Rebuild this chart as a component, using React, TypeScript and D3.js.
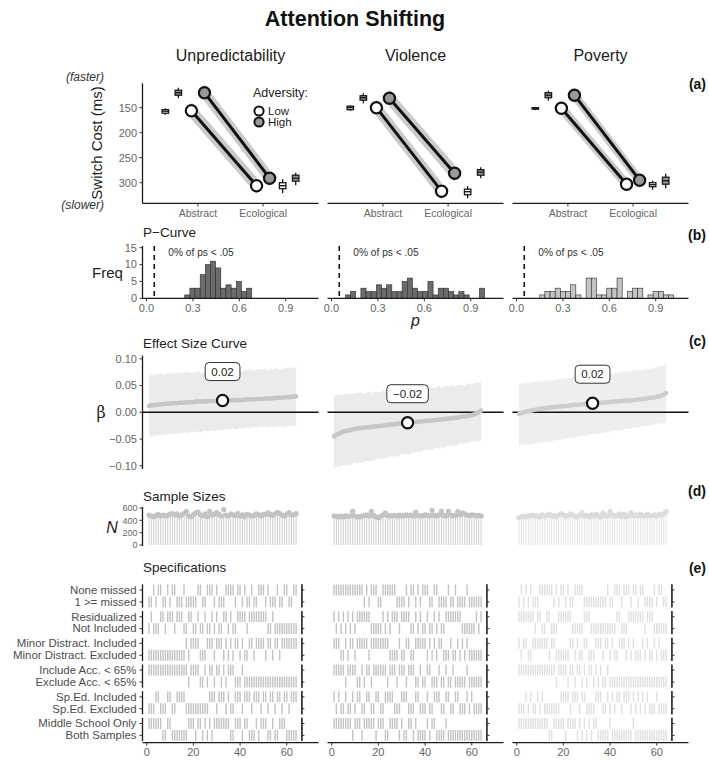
import React from "react";
import * as d3 from "d3";

const W = 709;
const H = 760;
const FONT = "'Liberation Sans', Arial, Helvetica, sans-serif";

// ---------------- DATA ----------------
const adversityColumns = ["Unpredictability", "Violence", "Poverty"];
const taskLevels = ["Abstract", "Ecological"];
const switchTicks = [150, 200, 250, 300];

// switch cost (ms) per column
const lowAbstract = [156, 150, 151];
const lowEcological = [306, 317, 303];
const highAbstract = [120, 131, 125];
const highEcological = [291, 281, 295];
const ribbonHalf = [17, 17, 14];

// boxplots [lo, q1, median, q3, hi]
const boxLowAbstract = [[151, 154, 157, 161, 164], [145, 147, 150, 154, 156], [148, 150, 151, 153, 155]];
const boxHighAbstract = [[110, 115, 120, 125, 131], [121, 126, 130, 135, 141], [116, 120, 125, 130, 136]];
const boxLowEcological = [[293, 300, 306, 312, 321], [307, 313, 318, 324, 331], [296, 300, 304, 308, 314]];
const boxHighEcological = [[280, 285, 291, 297, 305], [269, 274, 279, 285, 291], [282, 289, 296, 303, 311]];

// p-curve histograms
const pTicks = [0, 0.3, 0.6, 0.9];
const freqTicks = [0, 5, 10, 15];
const pBinWidth = 1 / 30;
const pBinStart = [0.247, 0.09, 0.15];
const pCounts = [
  [1, 3, 3, 7, 10, 11, 9, 3, 4, 3, 5, 2, 3],
  [1, 2, 0, 3, 2, 2, 4, 3, 4, 2, 2, 5, 6, 3, 2, 2, 5, 1, 3, 3, 2, 1, 2, 1, 0, 0, 3],
  [1, 2, 2, 3, 2, 2, 4, 1, 0, 6, 6, 1, 1, 3, 3, 6, 0, 2, 3, 3, 0, 1, 2, 2, 1, 1, 0],
];
const pShareLabel = ["0% of ps < .05", "0% of ps < .05", "0% of ps < .05"];

// effect size curve (x 1/1000), sorted by rank 1..64
const betaTicks = [0.1, 0.05, 0, -0.05, -0.1];
const estUnpred = [
  12, 13, 13, 14, 14, 15, 15, 16, 16, 16, 17, 17, 17, 18, 18, 18, 19, 19, 19, 19,
  20, 20, 20, 20, 20, 21, 21, 21, 21, 21, 22, 22, 22, 22, 22, 22, 23, 23, 23, 23,
  23, 24, 24, 24, 24, 24, 25, 25, 25, 25, 26, 26, 26, 26, 27, 27, 27, 27, 28, 28,
  28, 29, 29, 30,
];
const upperUnpred = [
  68, 71, 69, 72, 70, 73, 71, 70, 74, 72, 73, 71, 75, 72, 74, 73, 76, 74, 72, 75,
  74, 77, 75, 73, 76, 78, 75, 77, 74, 76, 78, 76, 79, 77, 75, 78, 80, 77, 79, 78,
  76, 80, 78, 81, 79, 77, 80, 82, 79, 81, 80, 78, 82, 80, 83, 81, 79, 83, 81, 84,
  82, 85, 83, 84,
];
const lowerUnpred = [
  -44, -46, -43, -45, -42, -44, -41, -43, -40, -42, -39, -41, -40, -38, -40, -37, -39, -38, -36, -38,
  -37, -35, -38, -36, -34, -36, -35, -33, -35, -34, -32, -34, -33, -31, -33, -32, -30, -32, -31, -29,
  -31, -30, -28, -30, -29, -27, -29, -28, -26, -28, -27, -29, -26, -28, -27, -25, -27, -26, -28, -25,
  -26, -24, -26, -25,
];
const estViolence = [
  -45, -42, -40, -38, -36, -35, -34, -33, -32, -31, -30, -30, -29, -29, -28, -28, -27, -27, -26, -26,
  -25, -25, -24, -24, -23, -23, -22, -22, -21, -21, -20, -20, -19, -19, -18, -18, -18, -17, -17, -16,
  -16, -16, -15, -15, -14, -14, -13, -13, -12, -12, -11, -11, -10, -10, -9, -8, -8, -7, -6, -5,
  -4, -2, 0, 3,
];
const upperViolence = [
  30, 33, 31, 34, 32, 35, 33, 36, 34, 37, 35, 38, 36, 34, 37, 39, 36, 38, 40, 37,
  39, 41, 38, 40, 42, 39, 41, 43, 40, 42, 44, 41, 43, 45, 42, 44, 46, 43, 45, 47,
  44, 46, 48, 45, 47, 49, 46, 48, 50, 47, 49, 51, 48, 50, 52, 49, 51, 53, 55, 52,
  54, 56, 55, 58,
];
const lowerViolence = [
  -104, -101, -103, -100, -98, -100, -97, -99, -96, -94, -96, -93, -95, -92, -90, -92, -89, -91, -88, -86,
  -88, -85, -87, -84, -82, -84, -81, -83, -80, -78, -80, -77, -79, -76, -74, -76, -73, -75, -72, -70,
  -72, -69, -71, -68, -66, -68, -65, -67, -64, -62, -64, -61, -63, -60, -58, -60, -57, -59, -56, -54,
  -56, -53, -55, -52,
];
const estPoverty = [
  -3, -1, 0, 1, 2, 3, 4, 5, 6, 7, 7, 8, 8, 9, 9, 10, 10, 11, 11, 12,
  12, 12, 13, 13, 14, 14, 14, 15, 15, 16, 16, 17, 17, 17, 18, 18, 18, 19, 19, 19,
  20, 20, 20, 21, 21, 21, 22, 22, 22, 23, 23, 24, 24, 25, 25, 26, 27, 27, 28, 29,
  30, 31, 33, 36,
];
const upperPoverty = [
  52, 55, 53, 56, 54, 57, 55, 58, 56, 59, 57, 60, 58, 61, 59, 62, 60, 63, 61, 64,
  62, 65, 63, 66, 64, 67, 65, 68, 66, 69, 67, 70, 68, 71, 69, 72, 70, 73, 71, 74,
  72, 75, 73, 76, 74, 77, 75, 78, 76, 79, 77, 80, 78, 81, 79, 82, 80, 84, 82, 86,
  84, 88, 87, 91,
];
const lowerPoverty = [
  -63, -60, -62, -59, -61, -58, -60, -57, -59, -56, -57, -54, -56, -53, -55, -52, -53, -50, -52, -49,
  -50, -47, -49, -46, -48, -45, -46, -43, -45, -42, -43, -40, -42, -39, -41, -38, -39, -36, -38, -35,
  -36, -33, -35, -32, -34, -31, -32, -29, -31, -28, -29, -27, -28, -25, -27, -24, -25, -22, -24, -21,
  -22, -20, -21, -18,
];

// sample sizes per specification
const nTicks = [0, 200, 400, 600];
const nUnpred = [
  485, 470, 460, 480, 495, 470, 485, 470, 480, 500, 510, 490, 505, 470, 490, 515, 545, 470, 460, 490,
  520, 535, 490, 470, 505, 460, 545, 485, 500, 530, 495, 470, 575, 485, 470, 505, 490, 480, 515, 470,
  490, 460, 495, 485, 470, 480, 505, 490, 470, 495, 500, 520, 495, 480, 505, 530, 510, 485, 470, 500,
  525, 485, 490, 510,
];
const nViolence = [
  470, 465, 460, 470, 455, 475, 465, 470, 545, 470, 460, 455, 470, 480, 490, 470, 545, 480, 455, 440,
  465, 490, 520, 480, 470, 475, 480, 470, 485, 470, 480, 490, 475, 485, 470, 535, 480, 470, 475, 490,
  480, 475, 560, 480, 470, 490, 550, 480, 475, 545, 485, 470, 480, 540, 490, 520, 505, 485, 480, 490,
  485, 475, 480, 470,
];
const nPoverty = [
  445, 460, 470, 455, 480, 470, 485, 475, 470, 455, 490, 470, 480, 500, 470, 475, 460, 485, 510, 490,
  470, 480, 505, 490, 470, 455, 485, 525, 470, 480, 460, 490, 470, 500, 475, 460, 520, 480, 470, 540,
  490, 470, 480, 505, 470, 500, 460, 480, 520, 470, 490, 475, 500, 470, 480, 495, 470, 480, 490, 470,
  500, 485, 510, 545,
];

// specifications: 1 = first (upper) option, 0 = second option
const rankTicks = [0, 20, 40, 60];
const specLabels = [
  ["None missed", "1 >= missed"],
  ["Residualized", "Not Included"],
  ["Minor Distract. Included", "Minor Distract. Excluded"],
  ["Include Acc. < 65%", "Exclude Acc. < 65%"],
  ["Sp.Ed. Included", "Sp.Ed. Excluded"],
  ["Middle School Only", "Both Samples"],
];
const specUnpred = [
  "0010110010110001000001100111010001111011010010011101000100110011",
  "0100011011101110011001001001010011010011110111111110010000000000",
  "0000000000000000101111000111011101010110100110111101101101111111",
  "1111111111111111101111001011011010111000100000000000000000000000",
  "0001100011001111000000000011101110100111011101110110110110110111",
  "1111110011000000011101101010111111100111011000101110010011100000",
];
const specViolence = [
  "1111111111111010111001111110000101101011100110000100100001000000",
  "1010101010111111000001010111011110010100100101001111111000000101",
  "1110010110111110111111110000100110011111010101100010010101000000",
  "1111101111001011011111101110111011100100110001001001000001000000",
  "1010010010110011001100111100011100011000100111001100110001010000",
  "1111111101110111110111001111010011010000101100001000000000000000",
];
const specPoverty = [
  "0101010001111110101101001111000000000010011101110110110000101100",
  "1111111011001100011111100000111000000000001100011111110111000000",
  "1011001111111011000000110100110001110110100111010100010100101000",
  "1111111111111111011110110110101101010010000000000000000000000000",
  "0001010010100000001111011101100001110010101101110101010100010000",
  "1111111111111001111101111010101011000001000000000100000000000000",
];

// ---------------- LAYOUT ----------------
const panelLeft = [142.5, 327.5, 512.5];
const PW = 176;
const axisGrey = "#4d4d4d";
const tickGrey = "#666666";

const estAll = [estUnpred, estViolence, estPoverty];
const upperAll = [upperUnpred, upperViolence, upperPoverty];
const lowerAll = [lowerUnpred, lowerViolence, lowerPoverty];
const nAll = [nUnpred, nViolence, nPoverty];
const specAll = [specUnpred, specViolence, specPoverty];

const xCat = d3.scaleLinear().domain([0.15, 2.85]).range([0, PW]);
const yA = d3.scaleLinear().domain([101.2, 341.2]).range([83.3, 203.3]);
const xP = d3.scaleLinear().domain([-0.026, 1.112]).range([0, PW]);
const yP = d3.scaleLinear().domain([0, 15]).range([298.3, 247.7]);
const xR = d3.scaleLinear().domain([-1.8, 73.6]).range([0, PW]);
const yB = d3.scaleLinear().domain([-0.106, 0.106]).range([469, 355.6]);
const yN = d3.scaleLinear().domain([0, 600]).range([545, 508]);

const FACET_TOP = 584.3;
const FACET_H = 23.3;
const FACET_STEP = 26.7;

function Txt(props: any) {
  const { children, ...rest } = props;
  return (
    <text fontFamily={FONT} {...rest}>
      {children}
    </text>
  );
}

function BoxPlot({ x0, pos, stats, fill }: any) {
  const cx = x0 + xCat(pos);
  const bw = 6.5;
  const [lo, q1, med, q3, hi] = stats;
  return (
    <g stroke="#1a1a1a" strokeWidth={1.3}>
      <line x1={cx} x2={cx} y1={yA(lo)} y2={yA(hi)} />
      <rect x={cx - bw / 2} y={yA(q1)} width={bw} height={Math.max(yA(q3) - yA(q1), 1.5)} fill={fill} />
      <line x1={cx - bw / 2} x2={cx + bw / 2} y1={yA(med)} y2={yA(med)} strokeWidth={1.4} />
    </g>
  );
}

function PanelA({ c }: { c: number }) {
  const x0 = panelLeft[c];
  const series = [
    { a: lowAbstract[c], e: lowEcological[c], dx: -0.1, fill: "#ffffff" },
    { a: highAbstract[c], e: highEcological[c], dx: 0.1, fill: "#999999" },
  ];
  const area = d3
    .area<[number, number]>()
    .x((d) => x0 + xCat(d[0]))
    .y0((d) => yA(d[1] - ribbonHalf[c]))
    .y1((d) => yA(d[1] + ribbonHalf[c]));
  const line = d3
    .line<[number, number]>()
    .x((d) => x0 + xCat(d[0]))
    .y((d) => yA(d[1]));
  return (
    <g>
      <line x1={x0} x2={x0 + PW} y1={203.3} y2={203.3} stroke="#1a1a1a" strokeWidth={1.3} />
      {[1, 2].map((v, i) => (
        <g key={i}>
          <line x1={x0 + xCat(v)} x2={x0 + xCat(v)} y1={203.3} y2={206.5} stroke="#333" strokeWidth={1} />
          <Txt x={x0 + xCat(v)} y={217} fontSize={10.5} fill={tickGrey} textAnchor="middle">
            {taskLevels[i]}
          </Txt>
        </g>
      ))}
      {c === 0 && (
        <g>
          <line x1={x0} x2={x0} y1={yA(101.2)} y2={203.3} stroke="#1a1a1a" strokeWidth={1.3} />
          {switchTicks.map((t) => (
            <g key={t}>
              <line x1={x0 - 3} x2={x0} y1={yA(t)} y2={yA(t)} stroke="#333" />
              <Txt x={x0 - 5.5} y={yA(t) + 3.8} fontSize={11} fill={tickGrey} textAnchor="end">
                {t}
              </Txt>
            </g>
          ))}
        </g>
      )}
      {series.map((s, i) => {
        const pts: [number, number][] = [
          [1 + s.dx, s.a],
          [2 + s.dx, s.e],
        ];
        return <path key={"r" + i} d={area(pts) || ""} fill="#c4c4c4" opacity={0.9} />;
      })}
      {series.map((s, i) => {
        const pts: [number, number][] = [
          [1 + s.dx, s.a],
          [2 + s.dx, s.e],
        ];
        return <path key={"l" + i} d={line(pts) || ""} fill="none" stroke="#111" strokeWidth={3} />;
      })}
      {series.map((s, i) => (
        <g key={"p" + i}>
          <circle cx={x0 + xCat(1 + s.dx)} cy={yA(s.a)} r={5.6} fill={s.fill} stroke="#111" strokeWidth={2.2} />
          <circle cx={x0 + xCat(2 + s.dx)} cy={yA(s.e)} r={5.6} fill={s.fill} stroke="#111" strokeWidth={2.2} />
        </g>
      ))}
      <BoxPlot x0={x0} pos={0.5} stats={boxLowAbstract[c]} fill="#ffffff" />
      <BoxPlot x0={x0} pos={0.7} stats={boxHighAbstract[c]} fill="#999999" />
      <BoxPlot x0={x0} pos={2.3} stats={boxLowEcological[c]} fill="#ffffff" />
      <BoxPlot x0={x0} pos={2.5} stats={boxHighEcological[c]} fill="#999999" />
    </g>
  );
}

function PanelB({ c }: { c: number }) {
  const x0 = panelLeft[c];
  const counts = pCounts[c];
  const fill = c === 2 ? "#c4c4c4" : "#6b6b6b";
  const base = yP(0);
  return (
    <g>
      {counts.map((n, i) => {
        if (n === 0) return null;
        const a = pBinStart[c] + i * pBinWidth;
        return (
          <rect
            key={i}
            x={x0 + xP(a)}
            y={yP(n)}
            width={xP(a + pBinWidth) - xP(a)}
            height={base - yP(n)}
            fill={fill}
            stroke="#2b2b2b"
            strokeWidth={0.6}
          />
        );
      })}
      <line x1={x0 + xP(0.05)} x2={x0 + xP(0.05)} y1={246} y2={base} stroke="#111" strokeWidth={1.6} strokeDasharray="5,4" />
      <Txt x={x0 + xP(0.05) + 14} y={255.5} fontSize={10.2} fill="#333">
        {pShareLabel[c]}
      </Txt>
      <line x1={x0} x2={x0 + PW} y1={base} y2={base} stroke="#1a1a1a" strokeWidth={1.3} />
      {pTicks.map((t) => (
        <g key={t}>
          <line x1={x0 + xP(t)} x2={x0 + xP(t)} y1={base} y2={base + 3} stroke="#333" />
          <Txt x={x0 + xP(t)} y={base + 13.5} fontSize={11} fill={tickGrey} textAnchor="middle">
            {d3.format(".1f")(t)}
          </Txt>
        </g>
      ))}
      {c === 0 && (
        <g>
          <line x1={x0} x2={x0} y1={246} y2={base} stroke="#1a1a1a" strokeWidth={1.3} />
          {freqTicks.map((t) => (
            <g key={t}>
              <line x1={x0 - 3} x2={x0} y1={yP(t)} y2={yP(t)} stroke="#333" />
              <Txt x={x0 - 5.5} y={yP(t) + 3.8} fontSize={11} fill={tickGrey} textAnchor="end">
                {t}
              </Txt>
            </g>
          ))}
        </g>
      )}
    </g>
  );
}

function PanelC({ c }: { c: number }) {
  const x0 = panelLeft[c];
  const est = estAll[c].map((v) => v / 1000);
  const up = upperAll[c].map((v) => v / 1000);
  const lo = lowerAll[c].map((v) => v / 1000);
  const ranks = est.map((_, i) => i + 1);
  const area = d3
    .area<number>()
    .x((r) => x0 + xR(r))
    .y0((r) => yB(lo[r - 1]))
    .y1((r) => yB(up[r - 1]));
  const line = d3
    .line<number>()
    .x((r) => x0 + xR(r))
    .y((r) => yB(est[r - 1]));
  const med = d3.median(est) as number;
  const midRank = (ranks.length + 1) / 2;
  const label = d3.format(".2f")(med);
  const px = x0 + xR(midRank);
  const py = yB(med);
  const bw = label.length * 6.7 + 8;
  const light = c === 2;
  return (
    <g>
      <path d={area(ranks) || ""} fill={light ? "#eeeeee" : "#ebebeb"} />
      <line x1={x0} x2={x0 + PW} y1={yB(0)} y2={yB(0)} stroke="#111" strokeWidth={1.4} />
      <path d={line(ranks) || ""} fill="none" stroke={light ? "#cdcdcd" : "#c6c6c6"} strokeWidth={4.5} strokeLinecap="round" />
      <circle cx={px} cy={py} r={5.6} fill="#fff" stroke="#111" strokeWidth={2.2} />
      <rect x={px - bw / 2} y={py - 38} width={bw} height={18} rx={4} fill="#fff" stroke="#333" strokeWidth={1} />
      <Txt x={px} y={py - 24.8} fontSize={11.5} fill="#222" textAnchor="middle">
        {label}
      </Txt>
      {c === 0 && (
        <g>
          <line x1={x0} x2={x0} y1={355.6} y2={469} stroke="#1a1a1a" strokeWidth={1.3} />
          {betaTicks.map((t) => (
            <g key={t}>
              <line x1={x0 - 3} x2={x0} y1={yB(t)} y2={yB(t)} stroke="#333" />
              <Txt x={x0 - 5.5} y={yB(t) + 3.8} fontSize={11} fill={tickGrey} textAnchor="end">
                {d3.format(".2f")(t)}
              </Txt>
            </g>
          ))}
        </g>
      )}
    </g>
  );
}

function PanelD({ c }: { c: number }) {
  const x0 = panelLeft[c];
  const ns = nAll[c];
  const light = c === 2;
  return (
    <g>
      {ns.map((n, i) => (
        <line key={"s" + i} x1={x0 + xR(i + 1)} x2={x0 + xR(i + 1)} y1={yN(0)} y2={yN(n)} stroke={light ? "#e4e4e4" : "#cfcfcf"} strokeWidth={1} />
      ))}
      {ns.map((n, i) => (
        <circle key={"h" + i} cx={x0 + xR(i + 1)} cy={yN(n)} r={2.6} fill={light ? "#dcdcdc" : "#c3c3c3"} />
      ))}
      {c === 0 && (
        <g>
          <line x1={x0} x2={x0} y1={507} y2={546} stroke="#1a1a1a" strokeWidth={1.3} />
          {nTicks.map((t) => (
            <g key={t}>
              <line x1={x0 - 3} x2={x0} y1={yN(t)} y2={yN(t)} stroke="#333" />
              <Txt x={x0 - 5} y={yN(t) + 3.2} fontSize={9} fill={tickGrey} textAnchor="end">
                {t}
              </Txt>
            </g>
          ))}
        </g>
      )}
    </g>
  );
}

function PanelE({ c }: { c: number }) {
  const x0 = panelLeft[c];
  const specs = specAll[c];
  const light = c === 2;
  const tileColor = light ? "#e0e0e0" : "#c4c4c4";
  const xAxisY = FACET_TOP + 5 * FACET_STEP + FACET_H + 1.5;
  const vx = x0 + xR(66.5);
  return (
    <g>
      {specs.map((bits, f) => {
        const top = FACET_TOP + f * FACET_STEP;
        const band = d3.scaleBand<string>().domain(["a", "b"]).range([top, top + FACET_H]).paddingInner(0.08).paddingOuter(0.02);
        return (
          <g key={f}>
            {bits.split("").map((b, i) => {
              const row = b === "1" ? "a" : "b";
              return (
                <rect
                  key={i}
                  x={x0 + xR(i + 1 - 0.3)}
                  y={band(row) as number}
                  width={xR(0.6) - xR(0)}
                  height={band.bandwidth()}
                  fill={tileColor}
                />
              );
            })}
            <line x1={vx} x2={vx} y1={top} y2={top + FACET_H} stroke="#111" strokeWidth={1.5} />
            {["a", "b"].map((r) => (
              <line key={r} x1={vx} x2={vx + 2.5} y1={(band(r) as number) + band.bandwidth() / 2} y2={(band(r) as number) + band.bandwidth() / 2} stroke="#333" />
            ))}
            {c === 0 && (
              <g>
                <line x1={x0} x2={x0} y1={top} y2={top + FACET_H} stroke="#1a1a1a" strokeWidth={1.3} />
                {["a", "b"].map((r, k) => {
                  const yy = (band(r) as number) + band.bandwidth() / 2;
                  return (
                    <g key={r}>
                      <line x1={x0 - 3} x2={x0} y1={yy} y2={yy} stroke="#333" />
                      <Txt x={x0 - 6} y={yy + 3.9} fontSize={11.4} fill={axisGrey} textAnchor="end">
                        {specLabels[f][k]}
                      </Txt>
                    </g>
                  );
                })}
              </g>
            )}
          </g>
        );
      })}
      <line x1={x0} x2={x0 + PW} y1={xAxisY} y2={xAxisY} stroke="#1a1a1a" strokeWidth={1.3} />
      {rankTicks.map((t) => (
        <g key={t}>
          <line x1={x0 + xR(t)} x2={x0 + xR(t)} y1={xAxisY} y2={xAxisY + 3} stroke="#333" />
          <Txt x={x0 + xR(t)} y={xAxisY + 13.5} fontSize={11} fill={tickGrey} textAnchor="middle">
            {t}
          </Txt>
        </g>
      ))}
    </g>
  );
}

export default function App() {
  const cols = [0, 1, 2];
  const panelLabels = [
    { t: "(a)", y: 89 },
    { t: "(b)", y: 240 },
    { t: "(c)", y: 346 },
    { t: "(d)", y: 496 },
    { t: "(e)", y: 573 },
  ];
  return (
    <svg width={W} height={H} viewBox={`0 0 ${W} ${H}`} style={{ position: "absolute", left: 0, top: 0, background: "#fff" }}>
      <rect x={0} y={0} width={W} height={H} fill="#fff" />
      <Txt x={355} y={26} fontSize={21.5} fontWeight="bold" textAnchor="middle" fill="#111">
        Attention Shifting
      </Txt>
      {cols.map((c) => (
        <Txt key={c} x={panelLeft[c] + PW / 2} y={61} fontSize={16} textAnchor="middle" fill="#222">
          {adversityColumns[c]}
        </Txt>
      ))}
      {panelLabels.map((p) => (
        <Txt key={p.t} x={706} y={p.y} fontSize={14} fontWeight="bold" textAnchor="end" fill="#111">
          {p.t}
        </Txt>
      ))}

      {/* (a) */}
      <Txt x={104} y={81} fontSize={12} fontStyle="italic" textAnchor="end" fill="#333">
        (faster)
      </Txt>
      <Txt x={104} y={209} fontSize={12} fontStyle="italic" textAnchor="end" fill="#333">
        (slower)
      </Txt>
      <Txt x={0} y={0} fontSize={15} textAnchor="middle" fill="#222" transform="translate(102,143) rotate(-90)">
        Switch Cost (ms)
      </Txt>
      {cols.map((c) => (
        <PanelA key={c} c={c} />
      ))}
      <Txt x={253} y={97} fontSize={12.5} fill="#222">
        Adversity:
      </Txt>
      <circle cx={259} cy={111} r={4.6} fill="#fff" stroke="#111" strokeWidth={2} />
      <Txt x={268} y={115} fontSize={11.5} fill="#222">
        Low
      </Txt>
      <circle cx={259} cy={122} r={4.6} fill="#999" stroke="#111" strokeWidth={2} />
      <Txt x={268} y={126} fontSize={11.5} fill="#222">
        High
      </Txt>

      {/* (b) */}
      <Txt x={143} y={237} fontSize={13.5} fill="#222">
        P−Curve
      </Txt>
      <Txt x={92} y={278} fontSize={15} fill="#222">
        Freq
      </Txt>
      {cols.map((c) => (
        <PanelB key={c} c={c} />
      ))}
      <Txt x={panelLeft[1] + PW / 2} y={326} fontSize={16} fontStyle="italic" textAnchor="middle" fill="#222">
        p
      </Txt>

      {/* (c) */}
      <Txt x={143} y={348} fontSize={13.5} fill="#222">
        Effect Size Curve
      </Txt>
      <Txt x={101} y={418} fontSize={16} fill="#222" textAnchor="middle" fontFamily="'DejaVu Serif', serif">
        β
      </Txt>
      {cols.map((c) => (
        <PanelC key={c} c={c} />
      ))}

      {/* (d) */}
      <Txt x={143} y={501} fontSize={13.5} fill="#222">
        Sample Sizes
      </Txt>
      <Txt x={112} y={533} fontSize={16} fontStyle="italic" textAnchor="middle" fill="#222">
        N
      </Txt>
      {cols.map((c) => (
        <PanelD key={c} c={c} />
      ))}

      {/* (e) */}
      <Txt x={143} y={572} fontSize={13.5} fill="#222">
        Specifications
      </Txt>
      {cols.map((c) => (
        <PanelE key={c} c={c} />
      ))}
    </svg>
  );
}
